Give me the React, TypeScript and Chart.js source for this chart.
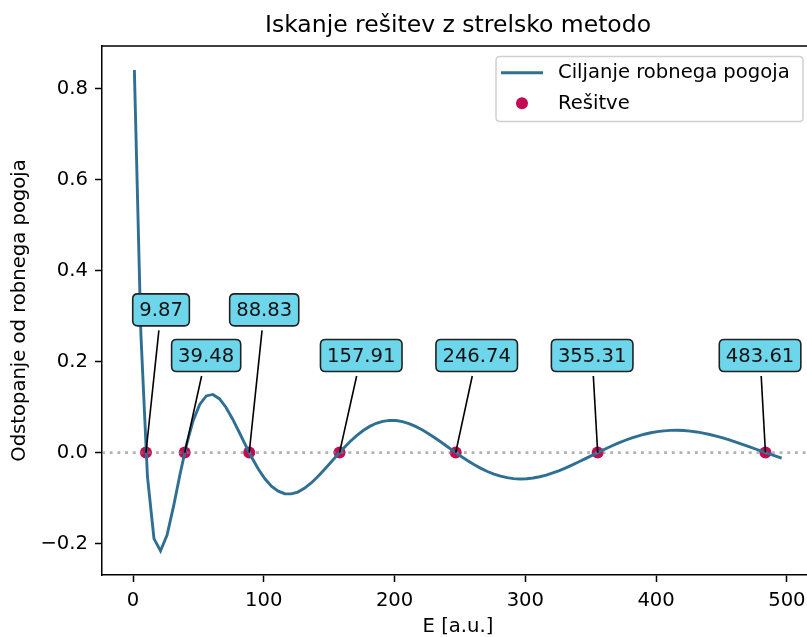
import React, { useEffect, useRef } from "react";
import { Chart, registerables } from "chart.js";

Chart.register(...registerables);

// Trial energies of the shooting method
const ENERGY = [
  1, 6, 11, 16, 21, 26, 31, 36, 41, 46, 51, 56, 61, 66, 71, 76, 81, 86, 91, 96,
  101, 106, 111, 116, 121, 126, 131, 136, 141, 146, 151, 156, 161, 166, 171, 176, 181, 186, 191, 196,
  201, 206, 211, 216, 221, 226, 231, 236, 241, 246, 251, 256, 261, 266, 271, 276, 281, 286, 291, 296,
  301, 306, 311, 316, 321, 326, 331, 336, 341, 346, 351, 356, 361, 366, 371, 376, 381, 386, 391, 396,
  401, 406, 411, 416, 421, 426, 431, 436, 441, 446, 451, 456, 461, 466, 471, 476, 481, 486, 491, 496,
];

// Boundary mismatch psi(L) for each trial energy
const MISMATCH = [
  0.8415, 0.2605, -0.0525, -0.1892, -0.2164, -0.1817, -0.1178, -0.0466, 0.0187, 0.0706,
  0.106, 0.1246, 0.1279, 0.1186, 0.0998, 0.0745, 0.0458, 0.0162, -0.012, -0.0372,
  -0.0582, -0.0743, -0.085, -0.0905, -0.0909, -0.0868, -0.0787, -0.0674, -0.0537, -0.0385,
  -0.0224, -0.0061, 0.0096, 0.0243, 0.0374, 0.0486, 0.0576, 0.0644, 0.0688, 0.0708,
  0.0705, 0.0681, 0.0637, 0.0577, 0.0502, 0.0416, 0.0321, 0.0221, 0.0118, 0.0015,
  -0.0085, -0.018, -0.0268, -0.0347, -0.0416, -0.0473, -0.0519, -0.0552, -0.0572, -0.058,
  -0.0575, -0.0559, -0.0531, -0.0494, -0.0448, -0.0395, -0.0335, -0.0271, -0.0203, -0.0132,
  -0.0061, 0.001, 0.0079, 0.0145, 0.0208, 0.0266, 0.0318, 0.0364, 0.0404, 0.0436,
  0.0461, 0.0478, 0.0488, 0.049, 0.0485, 0.0473, 0.0454, 0.0429, 0.0398, 0.0363,
  0.0323, 0.0279, 0.0232, 0.0182, 0.0131, 0.0079, 0.0027, -0.0025, -0.0075, -0.0124,
];

// Eigen-energies found by root finding
const ROOTS = [9.87, 39.48, 88.83, 157.91, 246.74, 355.31, 483.61];
const ROOT_LABELS = ["9.87", "39.48", "88.83", "157.91", "246.74", "355.31", "483.61"];

// Where each value label sits (data coordinates of the label centre)
const LABEL_ANCHORS: [number, number][] = [
  [21.4, 0.314],
  [55.9, 0.2136],
  [100.3, 0.314],
  [174.5, 0.2136],
  [262.8, 0.2136],
  [351.1, 0.2136],
  [479.5, 0.2136],
];

const X_TICKS = [0, 100, 200, 300, 400, 500];
const Y_TICKS = [-0.2, 0, 0.2, 0.4, 0.6, 0.8];

const TITLE = "Iskanje rešitev z strelsko metodo";
const X_LABEL = "E [a.u.]";
const Y_LABEL = "Odstopanje od robnega pogoja";
const LINE_NAME = "Ciljanje robnega pogoja";
const ROOT_NAME = "Rešitve";

const FONT = "'DejaVu Sans', 'Liberation Sans', sans-serif";
const CURVE_COLOR = "#2f6f94";
const ROOT_COLOR = "#c40a52";
const BOX_FILL = "#6dd6ea";

const W = 830;
const H = 637;

function roundRect(ctx: CanvasRenderingContext2D, x: number, y: number, w: number, h: number, r: number) {
  ctx.beginPath();
  ctx.moveTo(x + r, y);
  ctx.lineTo(x + w - r, y);
  ctx.quadraticCurveTo(x + w, y, x + w, y + r);
  ctx.lineTo(x + w, y + h - r);
  ctx.quadraticCurveTo(x + w, y + h, x + w - r, y + h);
  ctx.lineTo(x + r, y + h);
  ctx.quadraticCurveTo(x, y + h, x, y + h - r);
  ctx.lineTo(x, y + r);
  ctx.quadraticCurveTo(x, y, x + r, y);
  ctx.closePath();
}

const decor = {
  id: "decor",
  beforeDraw(chart: any) {
    const { ctx } = chart;
    ctx.save();
    ctx.fillStyle = "#ffffff";
    ctx.fillRect(0, 0, chart.width, chart.height);
    ctx.restore();
  },
  afterDatasetsDraw(chart: any) {
    const { ctx, chartArea: a, scales } = chart;
    const x = scales.x;
    const y = scales.y;
    const y0 = y.getPixelForValue(0);

    // dotted zero line
    ctx.save();
    ctx.beginPath();
    ctx.rect(a.left, a.top, a.right - a.left, a.bottom - a.top);
    ctx.clip();
    ctx.setLineDash([2.9, 4.8]);
    ctx.strokeStyle = "rgba(128,128,128,0.6)";
    ctx.lineWidth = 2.9;
    ctx.beginPath();
    ctx.moveTo(a.left, y0);
    ctx.lineTo(a.right, y0);
    ctx.stroke();
    ctx.restore();

    // value labels with leader lines
    ctx.save();
    ctx.font = `19.6px ${FONT}`;
    ROOTS.forEach((r, i) => {
      const px = x.getPixelForValue(r);
      const py = y.getPixelForValue(0);
      const cx = x.getPixelForValue(LABEL_ANCHORS[i][0]);
      const cy = y.getPixelForValue(LABEL_ANCHORS[i][1]);
      const tw = ctx.measureText(ROOT_LABELS[i]).width;
      const bw = tw + 13;
      const bh = 32;
      const bx = cx - bw / 2;
      const by = cy - bh / 2;
      const startY = by + bh + 4.5;
      const t = (startY - cy) / (py - cy);
      const sx = cx + (px - cx) * t;
      ctx.strokeStyle = "#000";
      ctx.lineWidth = 1.6;
      ctx.setLineDash([]);
      ctx.beginPath();
      ctx.moveTo(sx, startY);
      ctx.lineTo(px, py);
      ctx.stroke();

      roundRect(ctx, bx, by, bw, bh, 5);
      ctx.fillStyle = BOX_FILL;
      ctx.fill();
      ctx.strokeStyle = "#222";
      ctx.lineWidth = 1.6;
      ctx.stroke();
      ctx.fillStyle = "#111";
      ctx.textAlign = "center";
      ctx.textBaseline = "middle";
      ctx.fillText(ROOT_LABELS[i], cx, cy + 1);
    });
    ctx.restore();
  },
  afterDraw(chart: any) {
    const { ctx, chartArea: a } = chart;
    ctx.save();
    // top and right spines
    ctx.strokeStyle = "#000";
    ctx.lineWidth = 1.5;
    ctx.beginPath();
    ctx.moveTo(a.left, a.top);
    ctx.lineTo(a.right, a.top);
    ctx.lineTo(a.right, a.bottom);
    ctx.stroke();

    const midX = (a.left + a.right) / 2;
    ctx.fillStyle = "#000";
    ctx.textAlign = "center";
    ctx.textBaseline = "alphabetic";
    ctx.font = `23.5px ${FONT}`;
    ctx.fillText(TITLE, midX, 32);

    ctx.font = `19.6px ${FONT}`;
    ctx.fillText(X_LABEL, midX, 632);

    ctx.save();
    ctx.translate(20, (a.top + a.bottom) / 2);
    ctx.rotate(-Math.PI / 2);
    ctx.textBaseline = "middle";
    ctx.fillText(Y_LABEL, 0, 0);
    ctx.restore();

    // legend
    roundRect(ctx, 496, 56.5, 307, 65, 4);
    ctx.fillStyle = "rgba(255,255,255,0.8)";
    ctx.fill();
    ctx.strokeStyle = "#d0d0d0";
    ctx.lineWidth = 1.5;
    ctx.stroke();

    ctx.strokeStyle = CURVE_COLOR;
    ctx.lineWidth = 2.9;
    ctx.beginPath();
    ctx.moveTo(501, 72.7);
    ctx.lineTo(543, 72.7);
    ctx.stroke();

    ctx.fillStyle = ROOT_COLOR;
    ctx.beginPath();
    ctx.arc(522, 103.3, 6, 0, Math.PI * 2);
    ctx.fill();

    ctx.fillStyle = "#000";
    ctx.textAlign = "left";
    ctx.textBaseline = "middle";
    ctx.font = `19.6px ${FONT}`;
    ctx.fillText(LINE_NAME, 558, 73);
    ctx.fillText(ROOT_NAME, 558, 103.5);
    ctx.restore();
  },
};

export default function App() {
  const canvasRef = useRef<HTMLCanvasElement | null>(null);

  useEffect(() => {
    const canvas = canvasRef.current;
    if (!canvas) return;
    Chart.defaults.font.family = FONT;
    Chart.defaults.color = "#000";

    const chart = new Chart(canvas, {
      type: "line",
      data: {
        datasets: [
          {
            label: LINE_NAME,
            data: ENERGY.map((e, i) => ({ x: e, y: MISMATCH[i] })),
            borderColor: CURVE_COLOR,
            borderWidth: 2.9,
            pointRadius: 0,
            tension: 0,
            fill: false,
            order: 0,
          },
          {
            type: "scatter",
            label: ROOT_NAME,
            data: ROOTS.map((r) => ({ x: r, y: 0 })),
            backgroundColor: ROOT_COLOR,
            borderColor: ROOT_COLOR,
            borderWidth: 0,
            pointRadius: 6,
            showLine: false,
            order: 1,
          } as any,
        ],
      },
      options: {
        responsive: false,
        animation: false,
        devicePixelRatio: 1,
        layout: { padding: { left: 0, top: 46, right: 16, bottom: 0 } },
        plugins: {
          legend: { display: false },
          title: { display: false },
          tooltip: { enabled: false },
        },
        scales: {
          x: {
            type: "linear",
            min: -23.75,
            max: 520.75,
            afterBuildTicks: (s: any) => {
              s.ticks = X_TICKS.map((v) => ({ value: v }));
            },
            afterFit: (s: any) => {
              s.height = 62;
            },
            grid: {
              drawOnChartArea: false,
              drawTicks: true,
              tickLength: 7,
              tickWidth: 1.5,
              tickColor: "#000",
            },
            border: { display: true, color: "#000", width: 1.5 },
            ticks: {
              padding: 7,
              maxRotation: 0,
              font: { size: 19.6 },
              color: "#000",
              callback: (v: any) => String(v),
            },
          },
          y: {
            type: "linear",
            min: -0.2693,
            max: 0.8944,
            afterBuildTicks: (s: any) => {
              s.ticks = Y_TICKS.map((v) => ({ value: v }));
            },
            afterFit: (s: any) => {
              s.width = 102;
            },
            grid: {
              drawOnChartArea: false,
              drawTicks: true,
              tickLength: 7,
              tickWidth: 1.5,
              tickColor: "#000",
            },
            border: { display: true, color: "#000", width: 1.5 },
            ticks: {
              padding: 7,
              font: { size: 19.6 },
              color: "#000",
              callback: (v: any) => Number(v).toFixed(1).replace("-", "\u2212"),
            },
          },
        },
      },
      plugins: [decor],
    });

    return () => chart.destroy();
  }, []);

  return (
    <div
      style={{
        position: "fixed",
        left: 0,
        top: 0,
        width: 807,
        height: 637,
        overflow: "hidden",
        background: "#fff",
      }}
    >
      <canvas ref={canvasRef} width={W} height={H} style={{ display: "block", width: W, height: H }} />
    </div>
  );
}
